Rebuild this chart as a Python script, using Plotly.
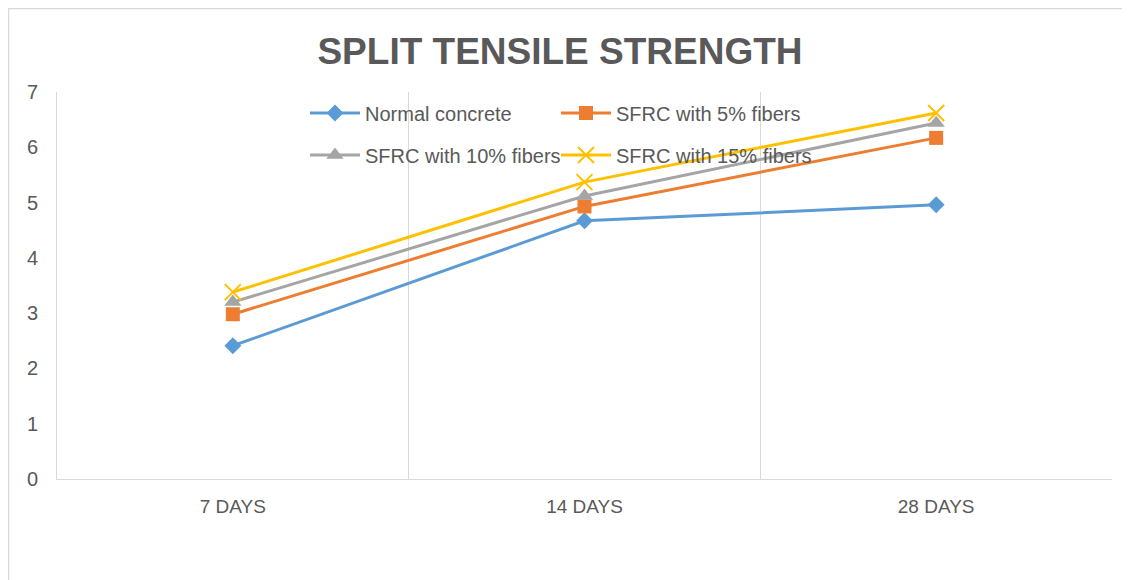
import plotly.graph_objects as go

categories = ["7 DAYS", "14 DAYS", "28 DAYS"]
normal_concrete = [2.41, 4.67, 4.96]
sfrc_5 = [2.98, 4.93, 6.17]
sfrc_10 = [3.20, 5.12, 6.44]
sfrc_15 = [3.38, 5.37, 6.62]

series_names = ["Normal concrete", "SFRC with 5% fibers", "SFRC with 10% fibers", "SFRC with 15% fibers"]
colors = ["#5B9BD5", "#ED7D31", "#A5A5A5", "#FFC000"]
symbols = ["diamond", "square", "triangle-up", "x-thin"]
sizes = [13, 14, 15, 16]
legends = ["legend", "legend2", "legend3", "legend4"]
values = [normal_concrete, sfrc_5, sfrc_10, sfrc_15]

OFF = 8  # default page body margin
W, H = 1130 - OFF, 580 - OFF
ML, MR, MT, MB = 57 - OFF, 18, 92 - OFF, 101
PW, PH = W - ML - MR, H - MT - MB

def px_x(sx):
    return (sx - OFF - ML) / PW

def px_y(sy):
    return (H - MB - (sy - OFF)) / PH

fig = go.Figure()
for name, vals, c, s, sz, lg in zip(series_names, values, colors, symbols, sizes, legends):
    marker = dict(symbol=s, size=sz, color=c)
    if s == "x-thin":
        marker["line"] = dict(color=c, width=2)
    fig.add_trace(go.Scatter(
        x=categories, y=vals, name=name, mode="lines+markers",
        line=dict(color=c, width=3), marker=marker, legend=lg, showlegend=True,
    ))

font_c = "#595959"
legend_common = dict(
    orientation="h", xanchor="left", yanchor="middle",
    font=dict(family="Liberation Sans", size=20, color=font_c),
    bgcolor="rgba(0,0,0,0)", itemwidth=50,
)

fig.update_layout(
    width=W, height=H,
    showlegend=True,
    margin=dict(l=ML, r=MR, t=MT, b=MB),
    paper_bgcolor="white", plot_bgcolor="white",
    title=dict(text="<b>SPLIT TENSILE STRENGTH</b>", x=(560 - OFF) / W, xanchor="center",
               y=1 - (51 - OFF) / H, yanchor="middle", yref="container",
               font=dict(family="Liberation Sans", size=37, color=font_c)),
    legend=dict(x=px_x(305), y=px_y(113), visible=True, **legend_common),
    legend2=dict(x=px_x(556), y=px_y(113), **legend_common),
    legend3=dict(x=px_x(305), y=px_y(155), **legend_common),
    legend4=dict(x=px_x(556), y=px_y(155), **legend_common),
    xaxis=dict(type="category", tickson="boundaries", showgrid=True, gridcolor="#D9D9D9",
               gridwidth=1, showline=True, linecolor="#D9D9D9", linewidth=1,
               ticks="", ticklabelstandoff=10,
               tickfont=dict(family="Liberation Sans", size=19, color=font_c),
               range=[-0.5, 2.5]),
    yaxis=dict(range=[0, 7], dtick=1, showgrid=False, zeroline=False, showline=True,
               linecolor="#D9D9D9", linewidth=1, ticks="", ticklabelstandoff=14,
               tickfont=dict(family="Liberation Sans", size=20, color=font_c)),
    shapes=[
        dict(type="line", xref="paper", yref="paper", x0=px_x(OFF), x1=px_x(1130), y0=px_y(OFF + 0.5), y1=px_y(OFF + 0.5),
             line=dict(color="#D9D9D9", width=1.5)),
        dict(type="line", xref="paper", yref="paper", x0=px_x(OFF + 0.5), x1=px_x(OFF + 0.5), y0=px_y(OFF), y1=px_y(580),
             line=dict(color="#D9D9D9", width=1.5)),
    ],
)

fig.write_html("out.html")
